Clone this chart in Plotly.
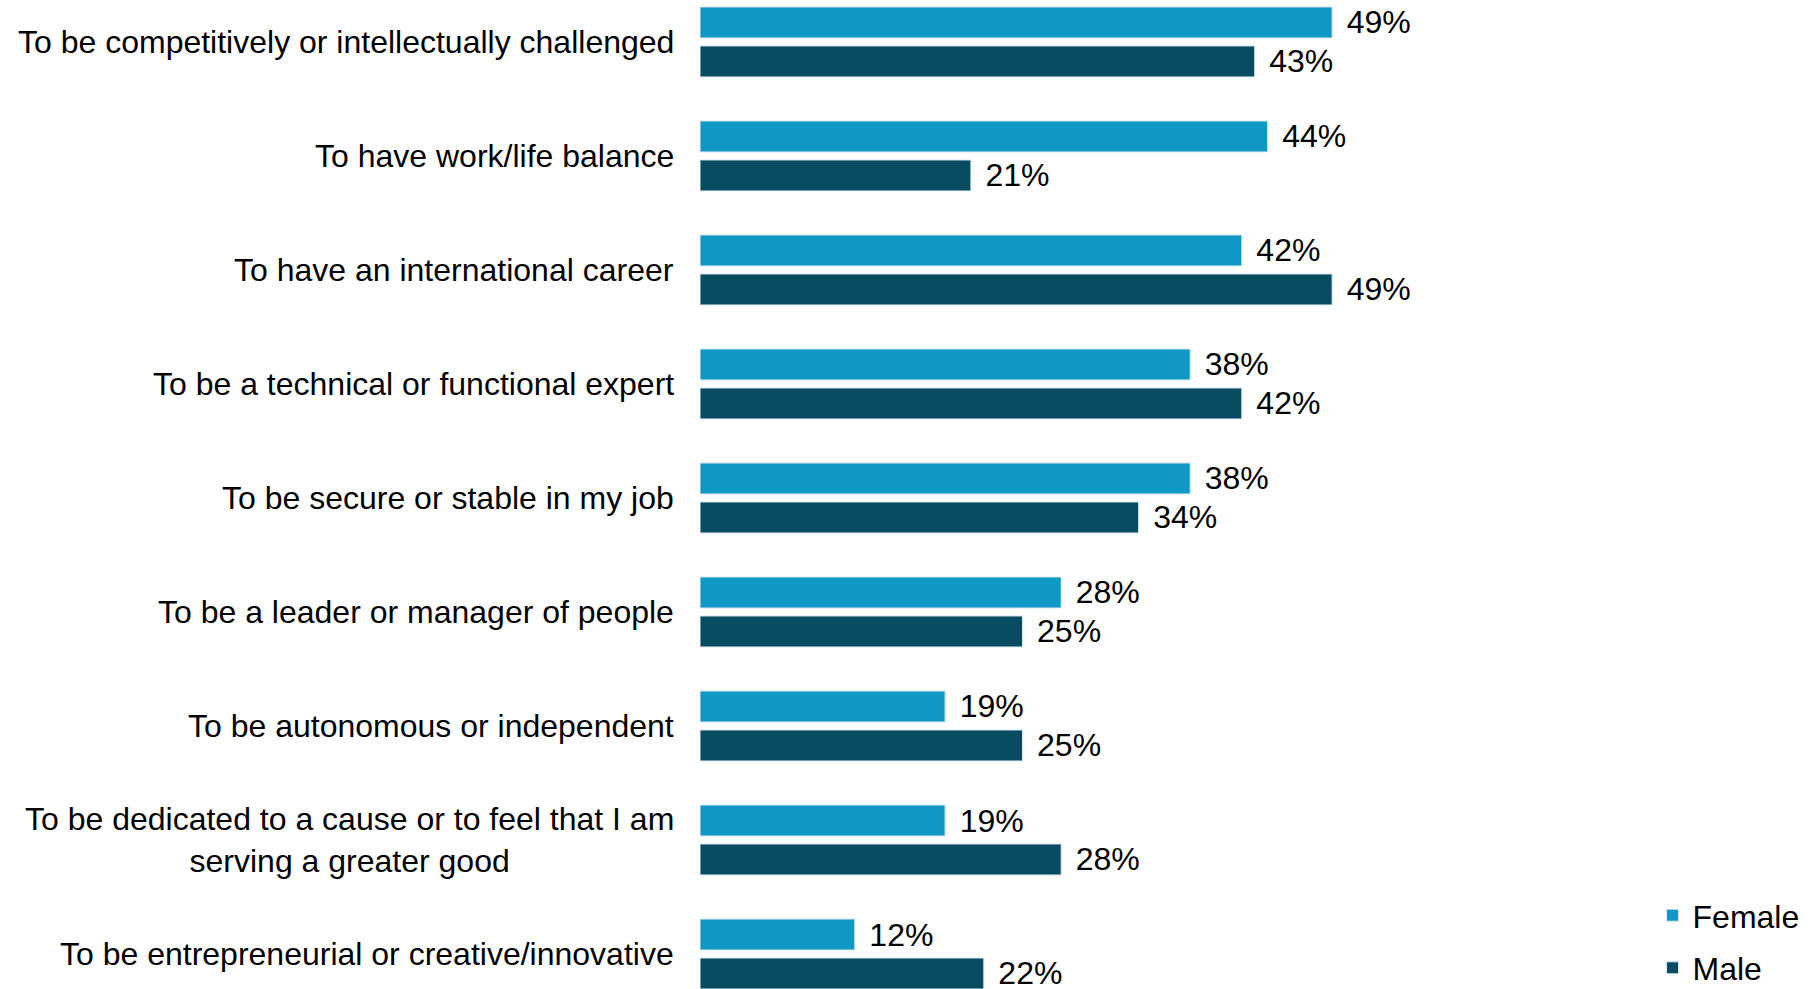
import plotly.graph_objects as go

categories = [
    "To be competitively or intellectually challenged",
    "To have work/life balance",
    "To have an international career",
    "To be a technical or functional expert",
    "To be secure or stable in my job",
    "To be a leader or manager of people",
    "To be autonomous or independent",
    "To be dedicated to a cause or to feel that I am<br>serving a greater good",
    "To be entrepreneurial or creative/innovative",
]
female = [49, 44, 42, 38, 38, 28, 19, 19, 12]
male = [43, 21, 49, 42, 34, 25, 25, 28, 22]

FEMALE_COLOR = "#1098C4"
MALE_COLOR = "#094C62"
FONT = "Arial, Liberation Sans, sans-serif"
FS = 32

fig = go.Figure()
for name, vals, col in [("Female", female, FEMALE_COLOR), ("Male", male, MALE_COLOR)]:
    fig.add_trace(go.Bar(
        name=name, y=categories, x=vals, orientation="h",
        legendgroup=name,
        marker=dict(color=col, line=dict(width=1, color="#d6e9f0")),
        text=[f"{v}%" for v in vals],
        texttemplate="\u00a0\u200a%{text}",
        textposition="outside",
        outsidetextfont=dict(family=FONT, size=FS, color="#000000"),
        constraintext="none",
        cliponaxis=False,
        hoverinfo="skip",
    ))

for c in categories:
    fig.add_annotation(
        x=0, y=c, xref="x", yref="y", text=c, showarrow=False,
        xanchor="right", yanchor="middle", align="center", xshift=-24,
        font=dict(family=FONT, size=FS, color="#000000"),
    )

px_per_unit = 12.9
plot_w = 1818 - 700
fig.update_layout(
    width=1818, height=989,
    margin=dict(l=700, r=0, t=0, b=0, pad=0, autoexpand=False),
    paper_bgcolor="white", plot_bgcolor="white",
    barmode="group", bargap=0.316, bargroupgap=0.205,
    font=dict(family=FONT, size=FS, color="#000000"),
    xaxis=dict(range=[0, plot_w / px_per_unit], showgrid=False, zeroline=False,
               showline=False, showticklabels=False, fixedrange=True),
    yaxis=dict(type="category", categoryorder="array", categoryarray=categories,
               range=[8.307, -0.368], showgrid=False, zeroline=False,
               showline=False, showticklabels=False, fixedrange=True),
    legend=dict(x=0.852, xanchor="left", y=-0.007, yanchor="bottom",
                font=dict(family=FONT, size=FS, color="#000000"),
                bgcolor="rgba(0,0,0,0)", traceorder="grouped", tracegroupgap=8),
    showlegend=True,
)

fig.write_html("out.html", config={"displayModeBar": False},
               post_script="document.body.style.margin='0';document.body.style.overflow='hidden';")
